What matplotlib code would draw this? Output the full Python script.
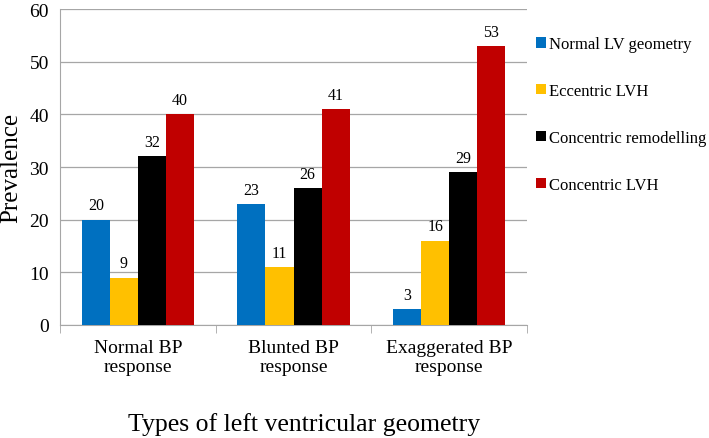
import numpy as np
import matplotlib
matplotlib.use("Agg")
import matplotlib.pyplot as plt

plt.rcParams["font.family"] = ["Liberation Serif", "DejaVu Serif"]

categories = ["Normal BP\nresponse", "Blunted BP\nresponse", "Exaggerated BP\nresponse"]
series_names = ["Normal LV geometry", "Eccentric LVH", "Concentric remodelling", "Concentric LVH"]
normal_lv = [20, 23, 3]
eccentric_lvh = [9, 11, 16]
concentric_rem = [32, 26, 29]
concentric_lvh = [40, 41, 53]
colors = ["#0070C0", "#FFC000", "#000000", "#C00000"]

series = [normal_lv, eccentric_lvh, concentric_rem, concentric_lvh]

fig = plt.figure(figsize=(7.09, 4.39), dpi=100)
ax = fig.add_axes([60 / 709, 1 - 326 / 439, (527 - 60) / 709, (326 - 10) / 439])

x = np.arange(len(categories))
width = 0.18
for i, (vals, name, c) in enumerate(zip(series, series_names, colors)):
    pos = x + (i - 1.5) * width
    bars = ax.bar(pos, vals, width, color=c, label=name, zorder=3)
    for b, v in zip(bars, vals):
        ax.text(b.get_x() + b.get_width() / 2, v + 1.2, str(v),
                ha="center", va="bottom", fontsize=11.5)

ax.set_ylim(0, 60)
ax.set_xlim(-0.5, 2.5)
ax.set_yticks(range(0, 61, 10))
ax.yaxis.grid(True, color="#a6a6a6", linewidth=0.9, zorder=0)
ax.set_axisbelow(True)

ax.set_xticks(x)
ax.set_xticklabels(categories, fontsize=14)
ax.set_xticks([-0.5, 0.5, 1.5, 2.5], minor=True)
ax.tick_params(axis="x", which="major", length=0, pad=10)
ax.tick_params(axis="x", which="minor", length=6, color="#a6a6a6")
ax.tick_params(axis="y", length=0, labelsize=14, pad=8)

for s in ["top", "right"]:
    ax.spines[s].set_visible(False)
ax.spines["left"].set_color("#a6a6a6")
ax.spines["bottom"].set_color("#a6a6a6")

ax.set_ylabel("Prevalence", fontsize=18, labelpad=5)
ax.set_xlabel("Types of left ventricular geometry", fontsize=18.5)
ax.xaxis.set_label_coords(0.522, -0.275)

ax.legend(loc="upper left", bbox_to_anchor=(1.005, 0.935), frameon=False,
          fontsize=12, handlelength=0.6, handleheight=0.6, handletextpad=0.2,
          labelspacing=1.85, borderaxespad=0)

fig.savefig("out.png", dpi=100)
